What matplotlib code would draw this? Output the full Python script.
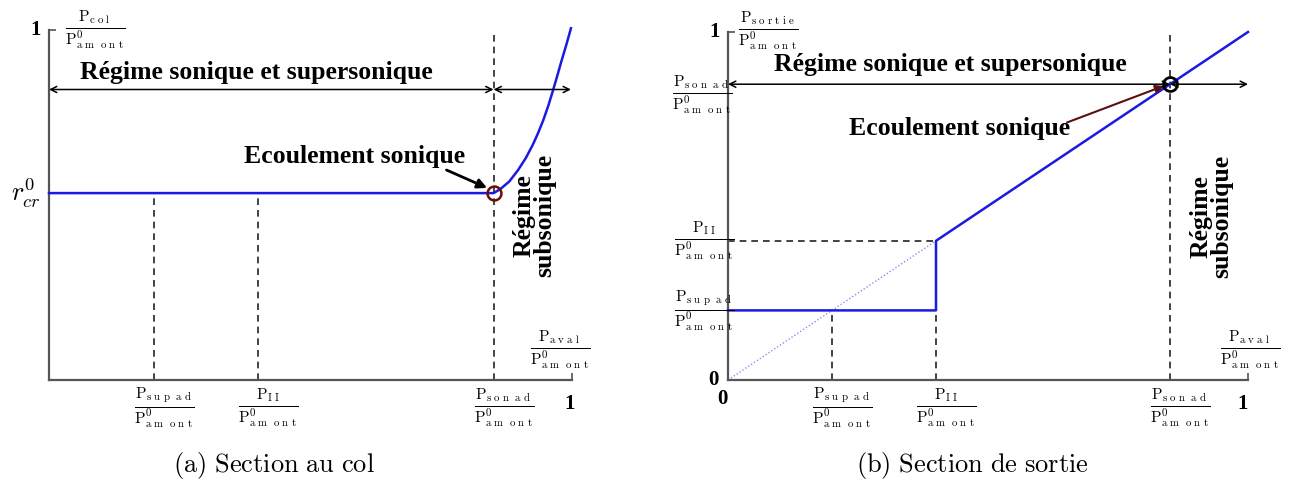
import matplotlib
matplotlib.use("Agg")
import matplotlib.pyplot as plt

plt.rcParams['mathtext.fontset'] = 'cm'

# ---- data ----
p_sup = 0.20        # P_sup_ad / P0_amont
p_II = 0.40         # P_II / P0_amont
p_son = 0.85        # P_son_ad / P0_amont
r_cr = 0.534        # critical ratio r0_cr

# (a) throat pressure vs downstream pressure
col_x = [0.0, 0.850, 0.857, 0.865, 0.872, 0.880, 0.897, 0.912, 0.925,
         0.935, 0.945, 0.955, 0.964, 0.972, 0.980, 0.989, 0.998]
col_y = [0.534, 0.534, 0.540, 0.548, 0.557, 0.567, 0.600, 0.635, 0.672,
         0.705, 0.742, 0.785, 0.829, 0.870, 0.912, 0.957, 1.005]

# (b) exit pressure vs downstream pressure
sortie_x = [0.0, 0.40, 0.40, 1.0]
sortie_y = [0.20, 0.20, 0.40, 1.0]
diag_x = [0.0, 0.40]
diag_y = [0.0, 0.40]

arrow_y_a = 0.83
arrow_y_b = 0.85

BLUE = '#1a1ae0'
SPINE = '#555555'
bold = dict(family='Liberation Serif', weight='bold', color='black')


def frac(num, den_sup='0'):
    return (r'$\frac{\mathrm{P_{%s}}}{\mathrm{P^{%s}_{a\ m\ \ o\ n\ t}}}$'
            % (num, den_sup))


SUP = r's\ u\ p\ \ a\ d'
II = r'I\ I'
SON = r's\ o\ n\ \ a\ d'
AVAL = r'a\ v\ a\ l'
COL = r'c\ o\ l'
SORTIE = r's\ o\ r\ t\ i\ e'

fig = plt.figure(figsize=(13, 4.86), dpi=100)
W, H = 1300, 486
FS = 18.5
FR = 16


def setup(ax):
    ax.set_xlim(0, 1)
    ax.set_ylim(0, 1)
    for s in ['top', 'right']:
        ax.spines[s].set_visible(False)
    for s in ['left', 'bottom']:
        ax.spines[s].set_color(SPINE)
        ax.spines[s].set_linewidth(1.6)
    ax.set_xticks([1])
    ax.set_yticks([1])
    ax.tick_params(direction='in', length=5, width=1.2, color=SPINE,
                   labelbottom=False, labelleft=False)


def dbl_arrow(ax, x0, x1, y):
    ax.annotate('', xy=(x0, y), xytext=(x1, y),
                arrowprops=dict(arrowstyle='<->', lw=1.1, color='black',
                                mutation_scale=11, shrinkA=0, shrinkB=0),
                annotation_clip=False)


# ================= (a) =================
axA = fig.add_axes([49 / W, 106 / H, 523 / W, 350 / H])
setup(axA)
axA.plot(col_x, col_y, color=BLUE, lw=1.8, clip_on=False, zorder=3,
         solid_joinstyle='round')
for xv in [p_sup, p_II]:
    axA.plot([xv, xv], [0, r_cr], ls=(0, (4, 3)), color='#222222', lw=1.2)
axA.plot([p_son, p_son], [0, 1.0], ls=(0, (4, 3)), color='#222222', lw=1.2)
axA.plot([p_son], [r_cr], marker='o', ms=10, mfc='none', mec='#6b0d0d',
         mew=1.8, zorder=4)
dbl_arrow(axA, 0, p_son, arrow_y_a)
dbl_arrow(axA, p_son, 0.998, arrow_y_a)
axA.text(0.396, 0.88, 'Régime sonique et supersonique', ha='center',
         va='center', fontsize=FS, **bold)
axA.text(0.585, 0.64, 'Ecoulement sonique', ha='center', va='center',
         fontsize=FS, **bold)
axA.annotate('', xy=(p_son - 0.005, r_cr + 0.01), xytext=(0.76, 0.60),
             arrowprops=dict(arrowstyle='-|>', lw=2, color='black',
                             mutation_scale=14, shrinkA=0, shrinkB=3))
axA.text(0.928, 0.47, 'Régime\nsubsonique', rotation=90, ha='center',
         va='center', fontsize=FS, linespacing=0.9, **bold)
axA.text(-0.045, r_cr, r'$r^0_{cr}$', ha='center', va='center', fontsize=19)
axA.text(-0.015, 1.0, '1', ha='right', va='center', fontsize=15, **bold)
axA.text(1.005, -0.04, '1', ha='right', va='top', fontsize=15, **bold)
axA.text(0.03, 1.0, frac(COL), ha='left', va='center', fontsize=FR)
axA.text(0.977, 0.086, frac(AVAL), ha='center', va='center', fontsize=FR)
for xv, lab in [(p_sup, SUP), (p_II, II), (p_son, SON)]:
    axA.text(xv + 0.02, -0.08, frac(lab), ha='center', va='center',
             fontsize=FR)
axA.text(0.43, -0.245, r'$\mathrm{(a)\ Section\ au\ col}$', ha='center',
         va='center', fontsize=19)

# ================= (b) =================
axB = fig.add_axes([728 / W, 106 / H, 520 / W, 348 / H])
setup(axB)
axB.plot(diag_x, diag_y, ls=(0, (1, 1.5)), color='#8c8cf0', lw=1.0)
axB.plot(sortie_x, sortie_y, color=BLUE, lw=1.8, clip_on=False, zorder=3)
axB.plot([0, p_II], [p_II, p_II], ls=(0, (4, 3)), color='#222222', lw=1.2)
axB.plot([p_sup, p_sup], [0, p_sup], ls=(0, (4, 3)), color='#222222', lw=1.2)
axB.plot([p_II, p_II], [0, p_sup], ls=(0, (4, 3)), color='#222222', lw=1.2)
axB.plot([p_son, p_son], [0, 1.0], ls=(0, (4, 3)), color='#222222', lw=1.2)
axB.plot([p_son], [p_son], marker='o', ms=10, mfc='none', mec='black',
         mew=2, zorder=4)
dbl_arrow(axB, 0, p_son, arrow_y_b)
dbl_arrow(axB, p_son, 1.0, arrow_y_b)
axB.text(0.427, 0.908, 'Régime sonique et supersonique', ha='center',
         va='center', fontsize=FS, **bold)
axB.text(0.446, 0.724, 'Ecoulement sonique', ha='center', va='center',
         fontsize=FS, **bold)
axB.annotate('', xy=(p_son - 0.012, p_son - 0.005), xytext=(0.652, 0.74),
             arrowprops=dict(arrowstyle='-|>', lw=1.5, color='#5a1010',
                             mutation_scale=12, shrinkA=0, shrinkB=0))
axB.text(0.93, 0.47, 'Régime\nsubsonique', rotation=90, ha='center',
         va='center', fontsize=FS, linespacing=0.9, **bold)
axB.text(-0.015, 1.0, '1', ha='right', va='center', fontsize=15, **bold)
axB.text(-0.018, 0.0, '0', ha='right', va='center', fontsize=15, **bold)
axB.text(-0.01, -0.025, '0', ha='center', va='top', fontsize=15, **bold)
axB.text(1.0, -0.04, '1', ha='right', va='top', fontsize=15, **bold)
axB.text(0.02, 1.005, frac(SORTIE), ha='left', va='center', fontsize=FR)
axB.text(-0.05, 0.82, frac(SON), ha='center', va='center', fontsize=FR)
axB.text(-0.045, p_II, frac(II), ha='center', va='center', fontsize=FR)
axB.text(-0.045, p_sup, frac(SUP), ha='center', va='center', fontsize=FR)
axB.text(1.004, 0.086, frac(AVAL), ha='center', va='center', fontsize=FR)
for xv, lab in [(p_sup, SUP), (p_II, II), (p_son, SON)]:
    axB.text(xv + 0.02, -0.08, frac(lab), ha='center', va='center',
             fontsize=FR)
axB.text(0.47, -0.245, r'$\mathrm{(b)\ Section\ de\ sortie}$', ha='center',
         va='center', fontsize=19)

fig.savefig('out.png', dpi=100)
